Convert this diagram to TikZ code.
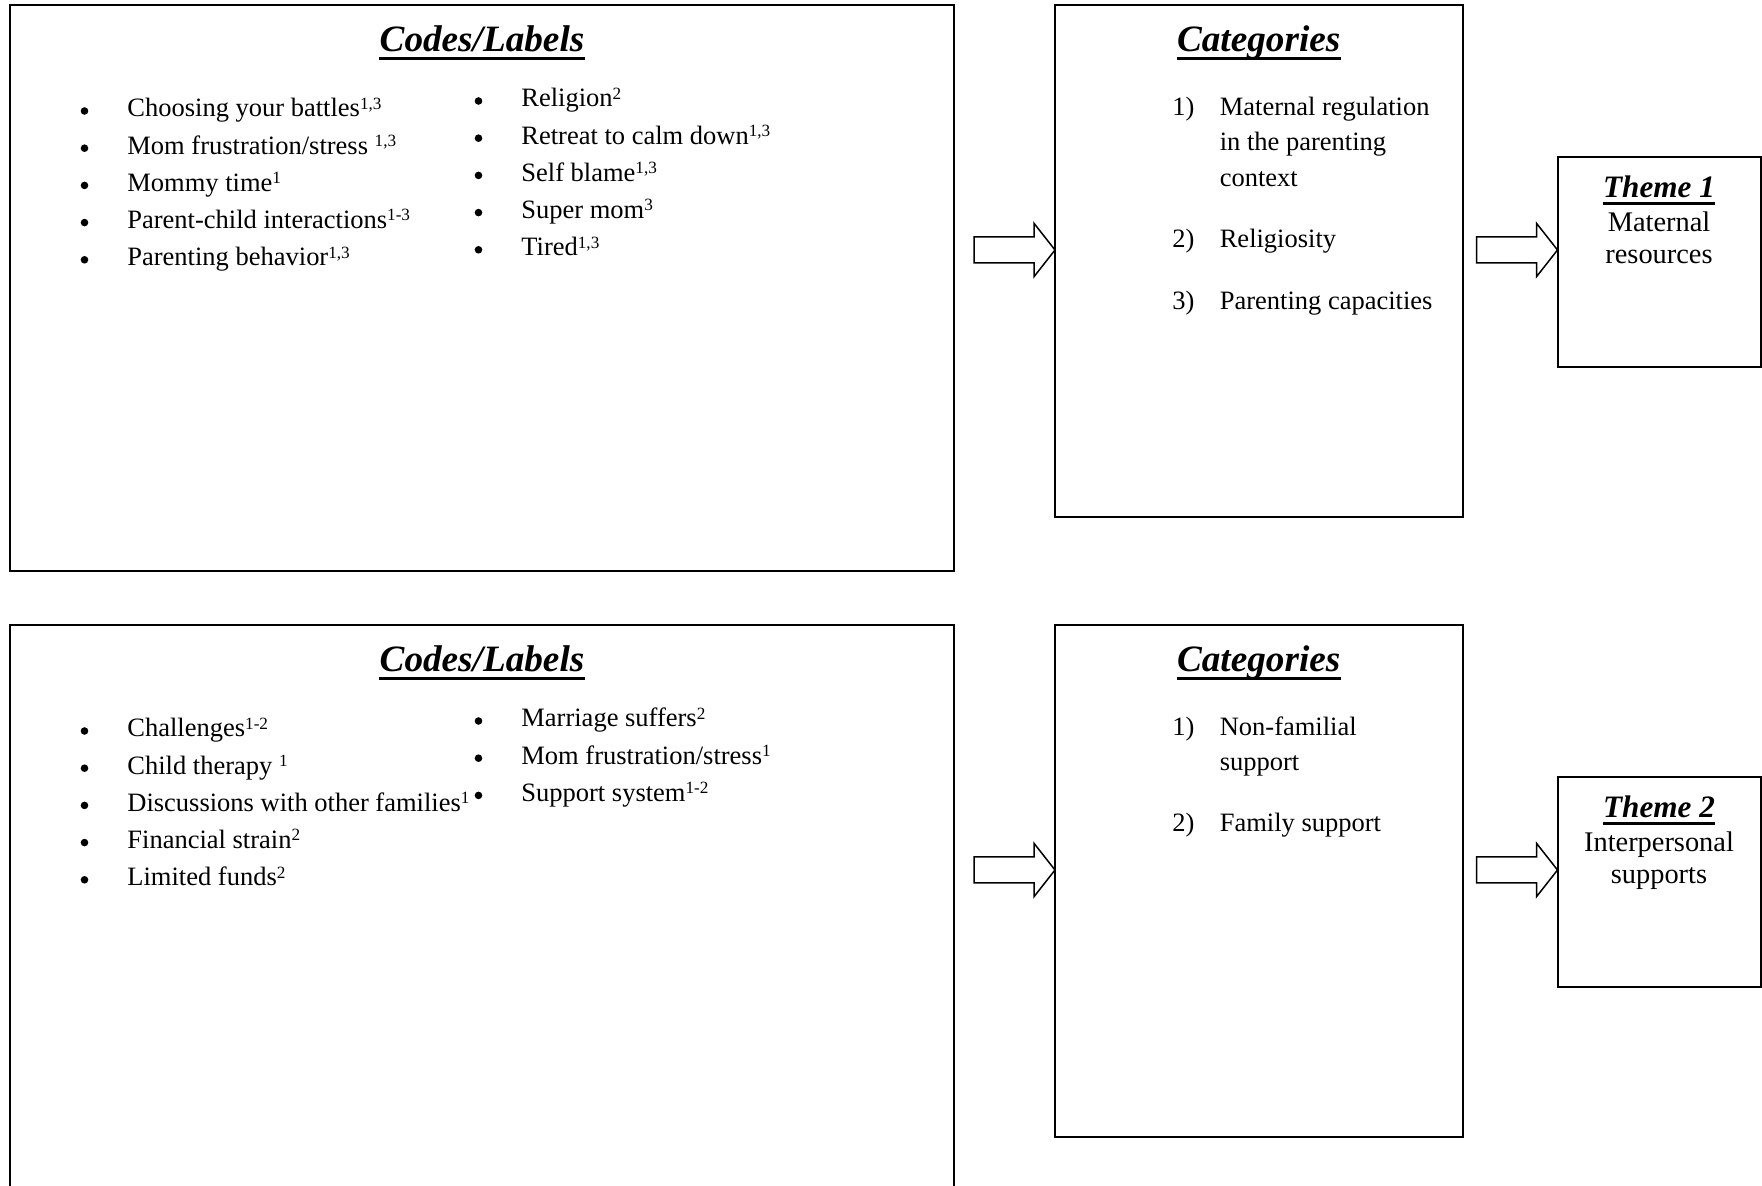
\documentclass[tikz,border=0pt]{standalone}
\usepackage{fontspec}
\setmainfont{Liberation Serif}
\usetikzlibrary{calc}
\newcommand\supr[1]{\raisebox{3.8pt}{\fontsize{8.6pt}{8.6pt}\selectfont #1}}
\newcommand\bitem[4]{%
  \fill (#2-42.5,#3-6) circle[radius=3.8];
  \node[txt] (#1) at (#2,#3) {#4};}
\newcommand\ularrow[1]{%
  \draw[arr] (#1) -- ++(-21,-26.7) -- ++(0,13.7) -- ++(-60,0) -- ++(0,26) -- ++(60,0) -- ++(0,13.7) -- cycle;}
\begin{document}
\begin{tikzpicture}[x=0.5pt,y=-0.5pt,
  box/.style={draw, line width=1pt, rectangle, inner sep=0pt, outer sep=0pt, anchor=north west},
  txt/.style={anchor=base west, inner sep=0pt, font=\fontsize{13.25pt}{16pt}\selectfont},
  ttl/.style={anchor=base, inner sep=0pt, font=\fontsize{18.6pt}{22pt}\selectfont\bfseries\itshape},
  thttl/.style={anchor=base, inner sep=0pt, font=\fontsize{15.6pt}{18pt}\selectfont\bfseries\itshape},
  thtxt/.style={anchor=base, inner sep=0pt, font=\fontsize{14.2pt}{17pt}\selectfont},
  uline/.style={line width=1.4pt},
  arr/.style={draw, line width=0.75pt, fill=white, line join=miter}]
\useasboundingbox (0,0) rectangle (1762,1186);
\clip (0,0) rectangle (1762,1186);
\fill[white] (0,0) rectangle (1762,1186);

% ---------- top row ----------
\node[box, minimum width=472pt, minimum height=283pt] (codes1) at (10,5) {};
\node[box, minimum width=204pt, minimum height=256pt] (cat1) at (1055,5) {};
\node[box, minimum width=101.5pt, minimum height=105pt] (thm1) at (1557.5,157) {};

\node[ttl] (ct1) at (482,51.5) {Codes/Labels};
\draw[uline] ($(ct1.base west)+(0,7)$) -- ($(ct1.base east)+(0,7)$);

\bitem{l1}{127}{117}{Choosing your battles\supr{1,3}}
\bitem{l2}{127}{154.2}{Mom frustration/stress \supr{1,3}}
\bitem{l3}{127}{191.4}{Mommy time\supr{1}}
\bitem{l4}{127}{228.6}{Parent-child interactions\supr{1-3}}
\bitem{l5}{127}{265.8}{Parenting behavior\supr{1,3}}
\bitem{r1}{521}{107}{Religion\supr{2}}
\bitem{r2}{521}{144.2}{Retreat to calm down\supr{1,3}}
\bitem{r3}{521}{181.4}{Self blame\supr{1,3}}
\bitem{r4}{521}{218.6}{Super mom\supr{3}}
\bitem{r5}{521}{255.8}{Tired\supr{1,3}}

\node[ttl] (cgt1) at (1258.7,51.5) {Categories};
\draw[uline] ($(cgt1.base west)+(0,7)$) -- ($(cgt1.base east)+(0,7)$);
\node[txt] (n11) at (1172,115.5) {1)};
\node[txt] (k11) at (1219.4,115.5) {Maternal regulation};
\node[txt] (k12) at (1219.4,151) {in the parenting};
\node[txt] (k13) at (1219.4,186.5) {context};
\node[txt] (n12) at (1172,248) {2)};
\node[txt] (k14) at (1219.4,248) {Religiosity};
\node[txt] (n13) at (1172,310) {3)};
\node[txt] (k15) at (1219.4,310) {Parenting capacities};

\node[thttl] (tt1) at (1659,198) {Theme 1};
\draw[line width=1.5pt] ($(tt1.base west)+(0,5.5)$) -- ($(tt1.base east)+(0,5.5)$);
\node[thtxt] (tm1) at (1659,231.5) {Maternal};
\node[thtxt] (tm2) at (1659,263.5) {resources};

\path (cat1.north west) ++(0,245) coordinate (a1);
\path (thm1.north west) ++(0,93) coordinate (a2);
\ularrow{a1}
\ularrow{a2}

% ---------- bottom row ----------
\node[box, minimum width=472pt, minimum height=287.5pt] (codes2) at (10,625) {};
\node[box, minimum width=204pt, minimum height=256pt] (cat2) at (1055,625) {};
\node[box, minimum width=101.5pt, minimum height=105pt] (thm2) at (1557.5,777) {};

\node[ttl] (ct2) at (482,671.5) {Codes/Labels};
\draw[uline] ($(ct2.base west)+(0,7)$) -- ($(ct2.base east)+(0,7)$);

\bitem{bl1}{127}{737}{Challenges\supr{1-2}}
\bitem{bl2}{127}{774.2}{Child therapy \supr{1}}
\bitem{bl3}{127}{811.4}{Discussions with other families\supr{1}}
\bitem{bl4}{127}{848.6}{Financial strain\supr{2}}
\bitem{bl5}{127}{885.8}{Limited funds\supr{2}}
\bitem{br1}{521}{727}{Marriage suffers\supr{2}}
\bitem{br2}{521}{764.2}{Mom frustration/stress\supr{1}}
\bitem{br3}{521}{801.4}{Support system\supr{1-2}}

\node[ttl] (cgt2) at (1258.7,671.5) {Categories};
\draw[uline] ($(cgt2.base west)+(0,7)$) -- ($(cgt2.base east)+(0,7)$);
\node[txt] (n21) at (1172,735.5) {1)};
\node[txt] (k21) at (1219.4,735.5) {Non-familial};
\node[txt] (k22) at (1219.4,771) {support};
\node[txt] (n22) at (1172,832) {2)};
\node[txt] (k23) at (1219.4,832) {Family support};

\node[thttl] (tt2) at (1659,818) {Theme 2};
\draw[line width=1.5pt] ($(tt2.base west)+(0,5.5)$) -- ($(tt2.base east)+(0,5.5)$);
\node[thtxt] (tm3) at (1659,851.5) {Interpersonal};
\node[thtxt] (tm4) at (1659,883.5) {supports};

\path (cat2.north west) ++(0,245) coordinate (b1);
\path (thm2.north west) ++(0,93) coordinate (b2);
\ularrow{b1}
\ularrow{b2}
\end{tikzpicture}
\end{document}
